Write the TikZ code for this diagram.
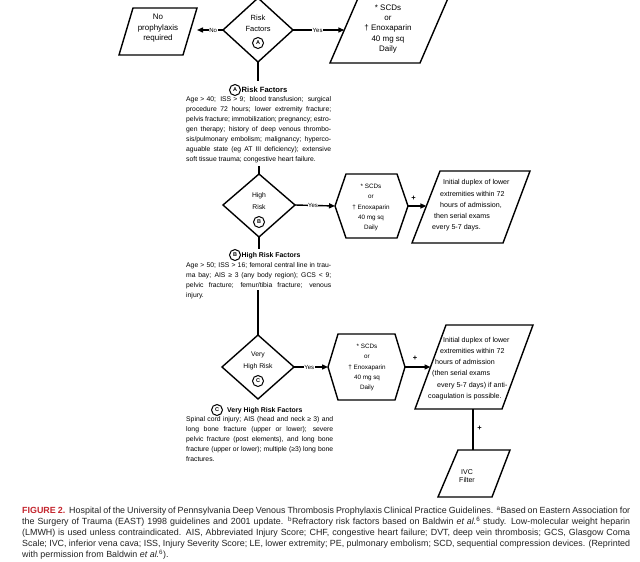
\documentclass[tikz,border=0pt]{standalone}
\usepackage{fontspec}
\setmainfont{Liberation Sans}
\usetikzlibrary{arrows.meta}
\definecolor{figred}{RGB}{196,38,46}
\definecolor{captxt}{RGB}{35,35,35}
\begin{document}
\begin{tikzpicture}[x=1pt,y=-1pt,
  shp/.style={line width=1.4pt, line join=miter},
  conn/.style={line width=1.4pt},
  arr/.style={conn,-{Triangle[length=6pt,width=5pt]}},
  lbl/.style={fill=white,inner sep=0.6pt,font=\fontsize{6}{7}\selectfont},
  boxtxt/.style={align=center,inner sep=0pt,font=\fontsize{6.3}{10.4}\selectfont},
  slanttxt/.style={align=left,inner sep=0pt,anchor=west,font=\fontsize{7.1}{11.2}\selectfont},
  letter/.style={circle,draw,line width=1pt,inner sep=0pt,minimum size=11pt,font=\fontsize{5.5}{6}\selectfont\bfseries},
  para/.style={text width=145pt,align=justify,inner sep=0pt,anchor=north west,font=\fontsize{6.8}{10}\selectfont},
  head/.style={font=\fontsize{6.9}{7}\selectfont\bfseries,inner sep=0pt,anchor=west},
  plus/.style={font=\fontsize{7.5}{8}\selectfont\bfseries,inner sep=0pt}]
\useasboundingbox (0,0) rectangle (640,562);
\fill[white] (0,0) rectangle (640,562);
\clip (0,0) rectangle (640,562);

% ---------- Row A ----------
\draw[shp] (223,30) coordinate (dAw) -- (258,-2) coordinate (dAn) -- (293,30) coordinate (dAe) -- (258,62) coordinate (dAs) -- cycle;
\node[boxtxt,font=\fontsize{7.5}{10.5}\selectfont] (dAt) at (258,23.5) {Risk\\Factors};
\node[letter] (dAc) at (258,43) {A};

\draw[shp] (133,8) -- (197,8) -- (183,55) -- (119,55) -- cycle;
\coordinate (nopE) at (190,30);
\node[boxtxt,font=\fontsize{8}{10.5}\selectfont] (nop) at (158,28.5) {No\\prophylaxis\\required};

\draw[shp] (359,-4) -- (449,-4) -- (420,63) -- (330,63) -- cycle;
\coordinate (rAw) at (344.3,30);
\node[boxtxt,font=\fontsize{8}{10.3}\selectfont] (rA) at (388,29) {* SCDs\\or\\† Enoxaparin\\40 mg sq\\Daily};

\draw[arr,shorten >=7pt] (dAw) -- (nopE) node[lbl,pos=0.3] (noA) {No};
\draw[arr] (dAe) -- (rAw) node[lbl,pos=0.48] (yesA) {Yes};

\coordinate (aEnd) at (258,81);
\draw[conn] (dAs) -- (aEnd);
\node[letter] (hA) at (235,90) {A};
\node[head,font=\fontsize{7.6}{8}\selectfont\bfseries] (hAt) at (241.5,90) {Risk Factors};
\node[para] (pA) at (186,96) {Age > 40;\ \ ISS > 9;\ \ blood transfusion;\ \ surgical\linebreak
procedure 72 hours; lower extremity fracture;\linebreak
pelvis fracture; immobilization; pregnancy; estro-\linebreak
gen therapy; history of deep venous thrombo-\linebreak
sis/pulmonary embolism; malignancy; hyperco-\linebreak
aguable state (eg AT III deficiency); extensive\linebreak
soft tissue trauma; congestive heart failure.};

% ---------- Row B ----------
\coordinate (bTop) at (259,166);
\draw[shp] (223,205) coordinate (dBw) -- (259,174) coordinate (dBn) -- (295,205) coordinate (dBe) -- (259,237) coordinate (dBs) -- cycle;
\draw[conn] (bTop) -- (dBn);
\node[boxtxt,font=\fontsize{6.8}{12}\selectfont] (dBt) at (259,201) {High\\Risk};
\node[letter] (dBc) at (259,222) {B};

\draw[shp] (335,206) coordinate (hBw) -- (346,174) -- (397,174) -- (408,206) coordinate (hBe) -- (397,238) -- (346,238) -- cycle;
\node[boxtxt] (hB) at (371,207.5) {* SCDs\\or\\† Enoxaparin\\40 mg sq\\Daily};

\draw[shp] (440,171) -- (530,171) -- (503,243) -- (412,243) -- cycle;
\coordinate (pBw) at (426.4,206);
\node[slanttxt] (pBt) at (432,205.5) {\hspace*{11pt}Initial duplex of lower\\\hspace*{8pt}extremities within 72\\\hspace*{8pt}hours of admission,\\\hspace*{2pt}then serial exams\\every 5-7 days.};

\draw[arr] (dBe) -- (hBw) node[lbl,pos=0.45] (yesB) {Yes};
\draw[arr] (hBe) -- (pBw);
\node[plus] (plB) at (413.5,198) {+};

\coordinate (bEnd) at (259,249);
\draw[conn] (dBs) -- (bEnd);
\node[letter] (hB) at (235,255) {B};
\node[head] (hBtx) at (241.5,255.5) {High Risk Factors};
\node[para] (pB) at (186,262) {Age > 50; ISS > 16; femoral central line in trau-\linebreak
ma bay; AIS ≥ 3 (any body region); GCS < 9;\linebreak
pelvic fracture; femur/tibia fracture; venous\linebreak
injury.};

% ---------- Row C ----------
\coordinate (cTop) at (258,290);
\draw[shp] (222,367) coordinate (dCw) -- (258,335) coordinate (dCn) -- (294,367) coordinate (dCe) -- (258,399) coordinate (dCs) -- cycle;
\draw[conn] (cTop) -- (dCn);
\node[boxtxt,font=\fontsize{6.8}{12}\selectfont] (dCt) at (258,361) {Very\\High Risk};
\node[letter] (dCc) at (258,381) {C};

\draw[shp] (328,367) coordinate (hCw) -- (338,334) -- (395,334) -- (405,367) coordinate (hCe) -- (395,400) -- (338,400) -- cycle;
\node[boxtxt] (hC) at (367,367.5) {* SCDs\\or\\† Enoxaparin\\40 mg sq\\Daily};

\draw[shp] (446,325) -- (533,325) -- (502,409) -- (415,409) -- cycle;
\coordinate (pCw) at (430.5,367);
\node[slanttxt] (pCt) at (428,368.5) {\hspace*{15pt}Initial duplex of lower\\\hspace*{12pt}extremities within 72\\\hspace*{7pt}hours of admission\\\hspace*{4pt}(then serial exams\\\hspace*{9pt}every 5-7 days) if anti-\\coagulation is possible.};

\draw[arr] (dCe) -- (hCw) node[lbl,pos=0.45] (yesC) {Yes};
\draw[arr] (hCe) -- (pCw);
\node[plus] (plC) at (415,358) {+};

\coordinate (pCs) at (473,409);
\coordinate (ivcN) at (473,450);
\draw[conn] (pCs) -- (ivcN);
\node[plus] (plD) at (479.5,428) {+};

\draw[shp] (458,450) -- (510,450) -- (492,497) -- (438,497) -- cycle;
\node[boxtxt,font=\fontsize{7}{8.5}\selectfont] (ivc) at (467,476) {IVC\\Filter};

\node[letter] (hC) at (217,410) {C};
\node[head] (hCtx) at (227,410.5) {Very High Risk Factors};
\node[para,text width=147pt] (pC) at (186,416) {Spinal cord injury; AIS (head and neck ≥ 3) and\linebreak
long bone fracture (upper or lower); severe\linebreak
pelvic fracture (post elements), and long bone\linebreak
fracture (upper or lower); multiple (≥3) long bone\linebreak
fractures.};

% ---------- Caption ----------
\node[anchor=north west,inner sep=0pt,text width=608pt,align=justify,text=captxt,font=\fontsize{8.9}{11}\selectfont] (cap) at (22,506.5) {{\color{figred}\bfseries FIGURE 2.}\ \ Hospital of the University of Pennsylvania Deep Venous Thrombosis Prophylaxis Clinical Practice Guidelines. \textsuperscript{a}Based on Eastern Association for\linebreak
the Surgery of Trauma (EAST) 1998 guidelines and 2001 update. \textsuperscript{b}Refractory risk factors based on Baldwin \textit{et al.}\textsuperscript{6} study. Low-molecular weight heparin\linebreak
(LMWH) is used unless contraindicated. AIS, Abbreviated Injury Score; CHF, congestive heart failure; DVT, deep vein thrombosis; GCS, Glasgow Coma\linebreak
Scale; IVC, inferior vena cava; ISS, Injury Severity Score; LE, lower extremity; PE, pulmonary embolism; SCD, sequential compression devices. (Reprinted\linebreak
with permission from Baldwin \textit{et al.}\textsuperscript{6}).};
\end{tikzpicture}
\end{document}
